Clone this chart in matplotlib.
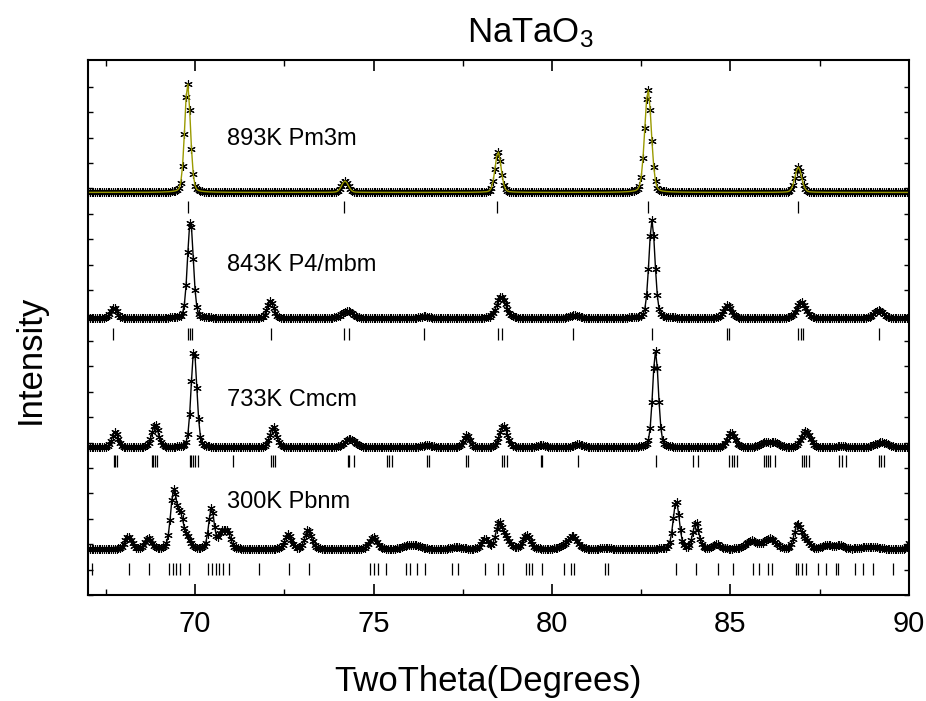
import numpy as np
import matplotlib
matplotlib.use('Agg')
import matplotlib.pyplot as plt

plt.rcParams['font.family'] = ['Liberation Sans', 'DejaVu Sans']
plt.rcParams['mathtext.fontset'] = 'custom'
plt.rcParams['mathtext.rm'] = 'Liberation Sans'
plt.rcParams['mathtext.it'] = 'Liberation Sans'

# scan grid (degrees 2theta)
two_theta = np.arange(67.0, 90.001, 0.05)

# 893K Pm3m : baseline, peak positions / heights / widths, reflection marks
base_893 = 15.84
pos_893 = [69.79, 74.2, 78.49, 82.69, 86.9]
hts_893 = [4.3, 0.45, 1.6, 4.05, 1.0]
fwhm_893 = [0.19, 0.22, 0.2, 0.22, 0.22]
refl_893 = [69.79, 74.18, 78.47, 82.68, 86.88]

# 843K P4/mbm
base_843 = 10.9
pos_843 = [67.72, 69.87, 72.11, 74.27, 76.42, 78.58, 80.62, 82.8, 84.92, 86.98, 89.15]
hts_843 = [0.4, 3.85, 0.68, 0.27, 0.06, 0.85, 0.1, 3.85, 0.5, 0.62, 0.3]
fwhm_843 = [0.2, 0.19, 0.2, 0.35, 0.3, 0.3, 0.3, 0.2, 0.25, 0.3, 0.3]
refl_843 = [67.69, 69.8, 69.87, 69.92, 72.13, 74.17, 74.3, 76.41, 78.48, 78.6,
            80.6, 82.8, 84.9, 84.95, 86.9, 86.97, 87.04, 89.15]

# 733K Cmcm
base_733 = 5.81
pos_733 = [67.76, 68.88, 69.97, 72.19, 74.34, 76.5, 77.61, 78.64, 79.7, 80.74,
           82.9, 85.02, 85.95, 86.25, 87.11, 88.1, 89.23]
hts_733 = [0.6, 0.88, 3.85, 0.8, 0.33, 0.08, 0.48, 0.85, 0.08, 0.12,
           3.8, 0.57, 0.18, 0.18, 0.65, 0.05, 0.2]
fwhm_733 = [0.2, 0.22, 0.19, 0.22, 0.35, 0.4, 0.2, 0.25, 0.3, 0.3,
            0.19, 0.25, 0.3, 0.3, 0.28, 0.3, 0.4]
refl_733 = [67.72, 67.76, 67.8, 68.78, 68.83, 68.88, 68.93, 69.86, 69.9, 69.95,
            70.0, 70.08, 71.07, 72.12, 72.18, 72.25, 74.28, 74.32, 74.46, 75.38,
            75.44, 75.52, 76.49, 76.56, 77.58, 77.64, 78.6, 78.66, 78.75, 79.68,
            79.72, 80.72, 82.91, 83.95, 84.08, 84.97, 85.03, 85.1, 85.18, 85.95,
            86.0, 86.05, 86.12, 86.24, 87.0, 87.05, 87.12, 87.2, 88.05, 88.12,
            88.23, 89.15, 89.22, 89.3]

# 300K Pbnm
base_300 = 1.81
pos_300 = [68.13, 68.69, 69.4, 69.6, 69.8, 70.46, 70.75, 70.92, 72.61, 73.17,
           74.99, 75.95, 76.2, 77.33, 78.12, 78.52, 78.72, 79.29, 80.35, 80.59,
           81.5, 83.48, 84.03, 84.61, 85.59, 86.1, 86.88, 87.1, 87.7, 88.05,
           88.9, 90.1]
hts_300 = [0.48, 0.42, 2.25, 1.2, 0.35, 1.6, 0.65, 0.6, 0.57, 0.75,
           0.48, 0.12, 0.12, 0.08, 0.4, 1.0, 0.35, 0.53, 0.12, 0.5,
           0.04, 1.9, 1.03, 0.18, 0.33, 0.4, 0.95, 0.35, 0.16, 0.14,
           0.09, 0.45]
fwhm_300 = [0.22, 0.22, 0.2, 0.2, 0.2, 0.18, 0.2, 0.18, 0.22, 0.22,
            0.25, 0.35, 0.35, 0.3, 0.22, 0.22, 0.25, 0.25, 0.3, 0.28,
            0.3, 0.2, 0.2, 0.25, 0.38, 0.38, 0.22, 0.25, 0.3, 0.3,
            0.5, 0.2]
refl_300 = [67.1, 68.16, 68.71, 69.28, 69.38, 69.48, 69.58, 69.84, 70.37, 70.47,
            70.58, 70.68, 70.79, 70.96, 71.8, 72.64, 73.18, 74.9, 75.01, 75.13,
            75.35, 75.91, 76.02, 76.21, 76.44, 77.19, 77.37, 78.12, 78.49, 78.63,
            79.27, 79.36, 79.45, 79.71, 80.34, 80.53, 80.62, 81.48, 81.58, 83.47,
            84.03, 84.64, 85.06, 85.62, 85.8, 86.04, 86.15, 86.83, 86.9, 86.99,
            87.11, 87.44, 87.67, 87.95, 88.02, 88.48, 88.72, 88.98, 89.54]

labels = ['893K Pm3m', '843K P4/mbm', '733K Cmcm', '300K Pbnm']


def profile(base, pos, hts, fwhm):
    # pseudo-voigt peaks on a flat background
    y = np.full_like(two_theta, base)
    for p, h, w in zip(pos, hts, fwhm):
        d = (two_theta - p) / w
        g = np.exp(-4 * np.log(2) * d ** 2)
        l = 1.0 / (1 + 4 * d ** 2)
        y += h * (0.8 * g + 0.2 * l)
    return y


fig = plt.figure(figsize=(9.26, 7.01), dpi=100)
ax = fig.add_axes([0.095, 0.1512, 0.8866, 0.7632])

star = (6, 2, 0)
patterns = [
    (base_893, pos_893, hts_893, fwhm_893, refl_893, 15.04, '#9a9a00'),
    (base_843, pos_843, hts_843, fwhm_843, refl_843, 10.04, 'k'),
    (base_733, pos_733, hts_733, fwhm_733, refl_733, 5.04, 'k'),
    (base_300, pos_300, hts_300, fwhm_300, refl_300, 0.79, 'k'),
]
label_y = [17.93, 13.0, 7.68, 3.66]

for (base, pos, hts, fwhm, refl, ry, lc), lab, ly in zip(patterns, labels, label_y):
    y = profile(base, pos, hts, fwhm)
    ax.plot(two_theta, y, ls='none', marker=star, ms=6, mew=0.8, color='k')
    ax.plot(two_theta, y, color=lc, lw=1.0)
    ax.vlines(refl, ry, ry + 0.47, color='k', lw=0.9)
    ax.text(70.9, ly, lab, fontsize=17, va='center', ha='left')

ax.set_xlim(67, 90)
ax.set_ylim(0, 21.05)
ax.set_xticks(np.arange(70, 91, 5))
ax.set_xticks(np.arange(67.5, 90, 2.5), minor=True)
ax.set_yticks(np.arange(0, 21, 1))
ax.set_yticklabels([])
ax.tick_params(axis='x', which='major', direction='in', length=8, width=1.2,
               top=True, labelsize=21, pad=11)
ax.tick_params(axis='x', which='minor', direction='in', length=4.5, width=1.0, top=True)
ax.tick_params(axis='y', which='major', direction='in', length=3.5, width=1.0,
               left=True, right=True)
for s in ax.spines.values():
    s.set_linewidth(1.5)

fig.text(0.573, 1 - 33 / 701, 'NaTaO$_3$', fontsize=25, ha='center', va='center')
fig.text(488 / 926, 1 - 682 / 701, 'TwoTheta(Degrees)', fontsize=25, ha='center', va='center')
fig.text(30 / 926, 1 - 359 / 701, 'Intensity', fontsize=25, ha='center', va='center',
         rotation=90)

fig.savefig('out.png', dpi=100)
